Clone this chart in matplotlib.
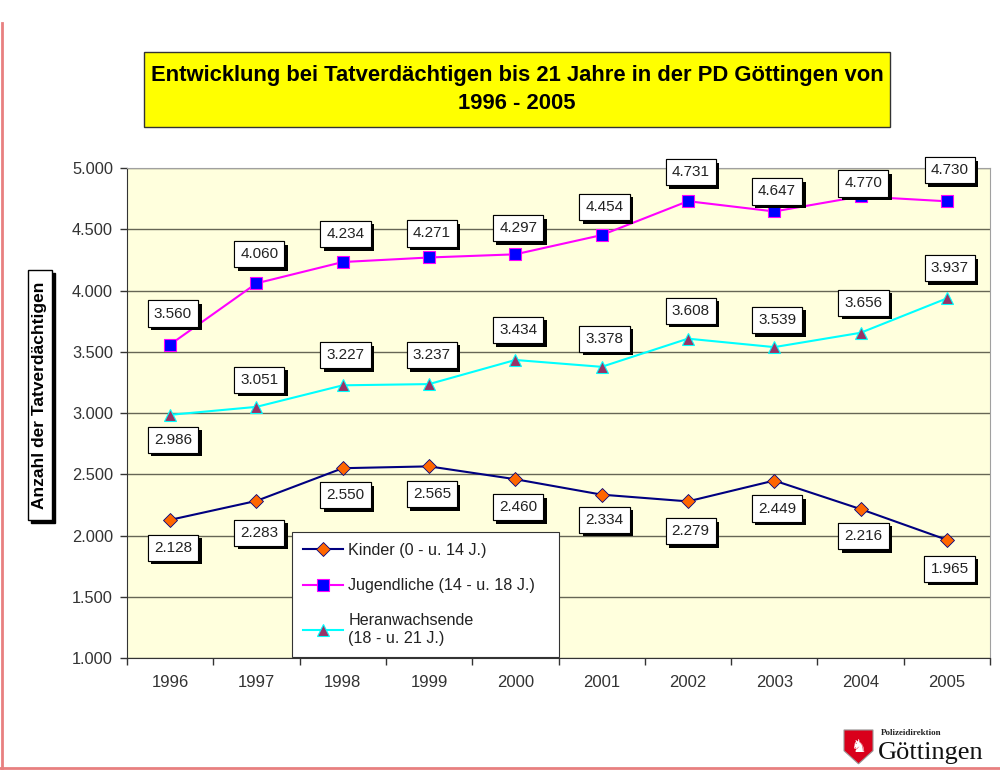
import numpy as np
import matplotlib.pyplot as plt
from matplotlib.patches import Rectangle, Polygon
from matplotlib.lines import Line2D
import matplotlib.patheffects as pe

plt.rcParams['font.family'] = ['Liberation Sans', 'DejaVu Sans']

years = ['1996', '1997', '1998', '1999', '2000', '2001', '2002', '2003', '2004', '2005']
kinder = [2128, 2283, 2550, 2565, 2460, 2334, 2279, 2449, 2216, 1965]
jugendliche = [3560, 4060, 4234, 4271, 4297, 4454, 4731, 4647, 4770, 4730]
heranwachsende = [2986, 3051, 3227, 3237, 3434, 3378, 3608, 3539, 3656, 3937]

labels = ['Kinder (0 - u. 14 J.)', 'Jugendliche (14 - u. 18 J.)',
          'Heranwachsende\n(18 - u. 21 J.)']

# label offsets in pixels (positive = upwards)
off_kinder = [-28, -32, -27, -28, -28, -25, -30, -28, -27, -29]
off_jugend = [31, 29, 28, 24, 26, 28, 29, 20, 13, 31]
off_heran = [-25, 27, 30, 29, 30, 28, 28, 27, 30, 30]

fig = plt.figure(figsize=(10, 7.7), dpi=100)
fig.patch.set_facecolor('white')
ax = fig.add_axes([0.127, 0.1455, 0.863, 0.636])
ax.set_facecolor('#FFFFDD')

x = np.arange(len(years))
ax.plot(x, kinder, color='#000080', lw=1.5, marker='D', markersize=7,
        markerfacecolor='#FF6600', markeredgecolor='#000080', markeredgewidth=0.6,
        label=labels[0], zorder=3)
ax.plot(x, jugendliche, color='#FF00FF', lw=1.5, marker='s', markersize=9,
        markerfacecolor='#0000FF', markeredgecolor='#FF00FF', markeredgewidth=0.8,
        label=labels[1], zorder=3)
ax.plot(x, heranwachsende, color='#00FFFF', lw=1.5, marker='^', markersize=9,
        markerfacecolor='#993366', markeredgecolor='#00FFFF', markeredgewidth=0.8,
        label=labels[2], zorder=3)

def fmt(v):
    return f'{v:,}'.replace(',', '.')

for vals, offs in [(kinder, off_kinder), (jugendliche, off_jugend), (heranwachsende, off_heran)]:
    for xi, v, o in zip(x, vals, offs):
        t = ax.annotate(fmt(v), (xi, v), xytext=(2, o * 0.72), textcoords='offset points',
                        ha='center', va='center', fontsize=11, color='#222222', zorder=5,
                        bbox=dict(boxstyle='square,pad=0.4', fc='white', ec='black', lw=0.8))
        t.get_bbox_patch().set_path_effects([
            pe.withSimplePatchShadow(offset=(2.5, -2.5), shadow_rgbFace='black', alpha=1),
            pe.Normal()])

ax.set_xlim(-0.5, 9.5)
ax.set_ylim(1000, 5000)
ax.set_yticks(np.arange(1000, 5001, 500))
ax.set_yticklabels([fmt(v) for v in range(1000, 5001, 500)], fontsize=11.8, color='#333333')
ax.set_xticks(x)
ax.set_xticklabels(years, fontsize=12, color='#333333')
ax.set_xticks(np.arange(-0.5, 10, 1), minor=True)
ax.tick_params(axis='x', which='major', length=0, pad=12)
ax.tick_params(axis='x', which='minor', length=5, width=1, color='#333333', direction='out')
ax.tick_params(axis='y', length=5, width=1, color='#333333', direction='out', pad=5)
ax.yaxis.grid(True, color='#666655', lw=1)
ax.set_axisbelow(True)
for s in ['top', 'right']:
    ax.spines[s].set_color('#A0A0A0')
for s in ['left', 'bottom']:
    ax.spines[s].set_color('#333333')

leg = ax.legend(loc='lower left', bbox_to_anchor=(0.191, 0.002, 0.309, 0.26), mode='expand',
                fontsize=11.6, frameon=True, fancybox=False, edgecolor='#333333', framealpha=1,
                handlelength=2.5, labelspacing=1.25, borderpad=0.7, handletextpad=0.3,
                borderaxespad=0)
leg.get_frame().set_linewidth(0.8)
for txt in leg.get_texts():
    txt.set_color('#222222')

# title box
fig.add_artist(Rectangle((0.144, 0.835), 0.746, 0.0974, transform=fig.transFigure,
                         fc='#FFFF00', ec='#333333', lw=1))
fig.text(0.517, 0.8837, 'Entwicklung bei Tatverdächtigen bis 21 Jahre in der PD Göttingen von\n1996 - 2005',
         ha='center', va='center', fontsize=15.8, fontweight='bold', linespacing=1.45)

# y label box
fig.add_artist(Rectangle((0.031, 0.321), 0.024, 0.3247, transform=fig.transFigure,
                         fc='black', ec='black', lw=1))
fig.add_artist(Rectangle((0.028, 0.3247), 0.024, 0.3247, transform=fig.transFigure,
                         fc='white', ec='black', lw=1))
fig.text(0.040, 0.487, 'Anzahl der Tatverdächtigen', rotation=90, ha='center', va='center',
         fontsize=12.5, fontweight='bold')

# slide border
fig.add_artist(Line2D([0.002, 0.002], [0.003, 0.97], transform=fig.transFigure,
                      color='#E88080', lw=2))
fig.add_artist(Line2D([0.0, 1.0], [0.003, 0.003], transform=fig.transFigure,
                      color='#E88080', lw=2))

# logo
shield = Polygon([(0.844, 0.052), (0.873, 0.052), (0.873, 0.025), (0.8585, 0.008),
                  (0.844, 0.025)], closed=True, transform=fig.transFigure,
                 fc='#D9001B', ec='#999999', lw=0.8)
fig.add_artist(shield)
fig.text(0.8585, 0.030, '♞', ha='center', va='center', fontsize=13, color='white',
         family=['DejaVu Sans'])
fig.text(0.881, 0.048, 'Polizeidirektion', ha='left', va='center', fontsize=6.5,
         family=['Liberation Serif'], fontweight='bold', color='#222222')
fig.text(0.878, 0.022, 'Göttingen', ha='left', va='center', fontsize=19,
         family=['Liberation Serif'], color='#111111')

fig.savefig('out.png', dpi=100)
